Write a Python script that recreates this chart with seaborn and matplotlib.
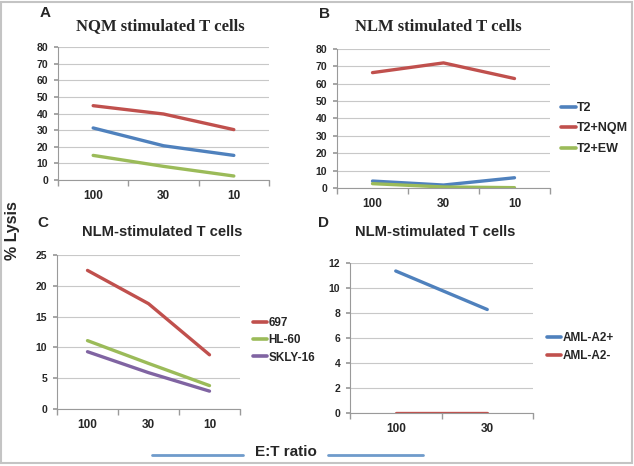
import matplotlib
matplotlib.use("Agg")
import matplotlib.pyplot as plt
import seaborn as sns
import pandas as pd
from matplotlib.lines import Line2D
from matplotlib.patches import Rectangle

sns.set_theme(style="white")
plt.rcParams['font.family'] = ['Liberation Sans', 'DejaVu Sans']

# ---------------- data ----------------
et_abc = ["100", "30", "10"]
et_d = ["100", "30"]

a_t2 = [31.3, 20.6, 14.8]
a_t2_nqm = [44.7, 39.7, 30.3]
a_t2_ew = [14.8, 8.2, 2.4]

b_t2 = [4.0, 1.7, 5.9]
b_t2_nqm = [66.4, 72.0, 63.0]
b_t2_ew = [2.5, 0.6, 0.2]

c_697 = [22.5, 17.1, 8.8]
c_hl60 = [11.1, 7.4, 3.8]
c_skly16 = [9.3, 5.9, 2.9]

d_a2pos = [11.36, 8.28]
d_a2neg = [0.0, 0.0]

names_ab = ["T2", "T2+NQM", "T2+EW"]
names_c = ["697", "HL-60", "SKLY-16"]
names_d = ["AML-A2+", "AML-A2-"]

BLUE, RED, GREEN, PURPLE = "#4F81BD", "#C0504D", "#9BBB59", "#8064A2"

W, H = 634, 466
fig = plt.figure(figsize=(W / 100, H / 100), dpi=100)


def px_axes(left, top, right, bottom):
    return fig.add_axes([left / W, 1 - bottom / H, (right - left) / W, (bottom - top) / H])


def make_df(cats, series, names):
    rows = []
    for nm, vals in zip(names, series):
        for c, v in zip(cats, vals):
            rows.append({"ET": c, "Lysis": v, "Series": nm})
    return pd.DataFrame(rows)


def style_axes(ax, ncat, ymax, ystep):
    ax.set_xlim(-0.5, ncat - 0.5)
    ax.set_ylim(0, ymax)
    ax.set_yticks(range(0, ymax + 1, ystep))
    ax.yaxis.grid(True, color="#c8c8c8", lw=0.8)
    ax.set_axisbelow(True)
    for s in ["top", "right"]:
        ax.spines[s].set_visible(False)
    for s in ["left", "bottom"]:
        ax.spines[s].set_color("#9a9a9a")
        ax.spines[s].set_linewidth(0.8)
    ax.set_xticks([x - 0.5 for x in range(ncat + 1)], minor=True)
    ax.tick_params(axis="x", which="major", length=0, pad=7)
    ax.tick_params(axis="x", which="minor", length=4, color="#9a9a9a", direction="out", bottom=True)
    ax.tick_params(axis="y", length=3, color="#9a9a9a", direction="out", left=True, pad=4)
    for lab in ax.get_xticklabels():
        lab.set_fontweight("bold")
        lab.set_fontsize(8.5)
    for lab in ax.get_yticklabels():
        lab.set_fontweight("bold")
        lab.set_fontsize(7.5)
    ax.set_xlabel("")
    ax.set_ylabel("")


def draw(ax, cats, series, names, colors):
    df = make_df(cats, series, names)
    sns.lineplot(data=df, x="ET", y="Lysis", hue="Series", palette=colors,
                 sort=False, lw=2.4, ax=ax, legend=False)
    ax.set_xticks(range(len(cats)))
    ax.set_xticklabels(cats)


def add_legend(ax, names, colors, x, y, size=8.5, spacing=0.45):
    handles = [Line2D([0], [0], color=c, lw=2.6) for c in colors]
    fig.legend(handles, names, loc="upper left", bbox_to_anchor=(x / W, 1 - y / H),
               frameon=False, handlelength=1.2, handletextpad=0.1, labelspacing=spacing,
               prop={"weight": "bold", "size": size}, borderpad=0, borderaxespad=0)


# Panel A
axA = px_axes(58, 47, 269, 180)
draw(axA, et_abc, [a_t2, a_t2_nqm, a_t2_ew], names_ab, [BLUE, RED, GREEN])
style_axes(axA, 3, 80, 10)

# Panel B
axB = px_axes(337, 49, 550, 188)
draw(axB, et_abc, [b_t2, b_t2_nqm, b_t2_ew], names_ab, [BLUE, RED, GREEN])
style_axes(axB, 3, 80, 10)
add_legend(axB, names_ab, [BLUE, RED, GREEN], 561, 102, size=9.0, spacing=0.68)

# Panel C
axC = px_axes(57, 255, 240, 409)
draw(axC, et_abc, [c_697, c_hl60, c_skly16], names_c, [RED, GREEN, PURPLE])
style_axes(axC, 3, 25, 5)
add_legend(axC, names_c, [RED, GREEN, PURPLE], 253, 317)

# Panel D
axD = px_axes(350, 263, 533, 413)
draw(axD, et_d, [d_a2pos, d_a2neg], names_d, [BLUE, RED])
style_axes(axD, 2, 12, 2)
add_legend(axD, names_d, [BLUE, RED], 547, 332, spacing=0.55)

# Titles
fig.text(160 / W, 1 - 26 / H, "NQM stimulated T cells", ha="center", va="center",
         family=["Liberation Serif", "DejaVu Serif"], weight="bold", fontsize=12)
fig.text(438 / W, 1 - 27 / H, "NLM stimulated T cells", ha="center", va="center",
         family=["Liberation Serif", "DejaVu Serif"], weight="bold", fontsize=12)
fig.text(162 / W, 1 - 232 / H, "NLM-stimulated T cells", ha="center", va="center",
         weight="bold", fontsize=10.6)
fig.text(435 / W, 1 - 232 / H, "NLM-stimulated T cells", ha="center", va="center",
         weight="bold", fontsize=10.6)

# Panel letters
for letter, x, y in [("A", 45, 13), ("B", 324, 14), ("C", 43, 223), ("D", 323, 223)]:
    fig.text(x / W, 1 - y / H, letter, ha="center", va="center", weight="bold", fontsize=11)

# Shared axis labels
fig.text(13 / W, 1 - 231 / H, "% Lysis", rotation=90, ha="center", va="center",
         weight="bold", fontsize=11.5)
fig.text(286 / W, 1 - 452 / H, "E:T ratio", ha="center", va="center",
         weight="bold", fontsize=11)
for x0, x1 in [(152, 243), (328, 423)]:
    fig.add_artist(Line2D([x0 / W, x1 / W], [1 - 455 / H, 1 - 455 / H],
                          color="#6f9bcb", lw=2, transform=fig.transFigure))

# Figure border
fig.add_artist(Rectangle((1 / W, 3 / H), (W - 3) / W, (H - 5) / H, fill=False,
                         edgecolor="#c4c4c4", lw=1.5, transform=fig.transFigure))

fig.savefig("out.png", dpi=100)
